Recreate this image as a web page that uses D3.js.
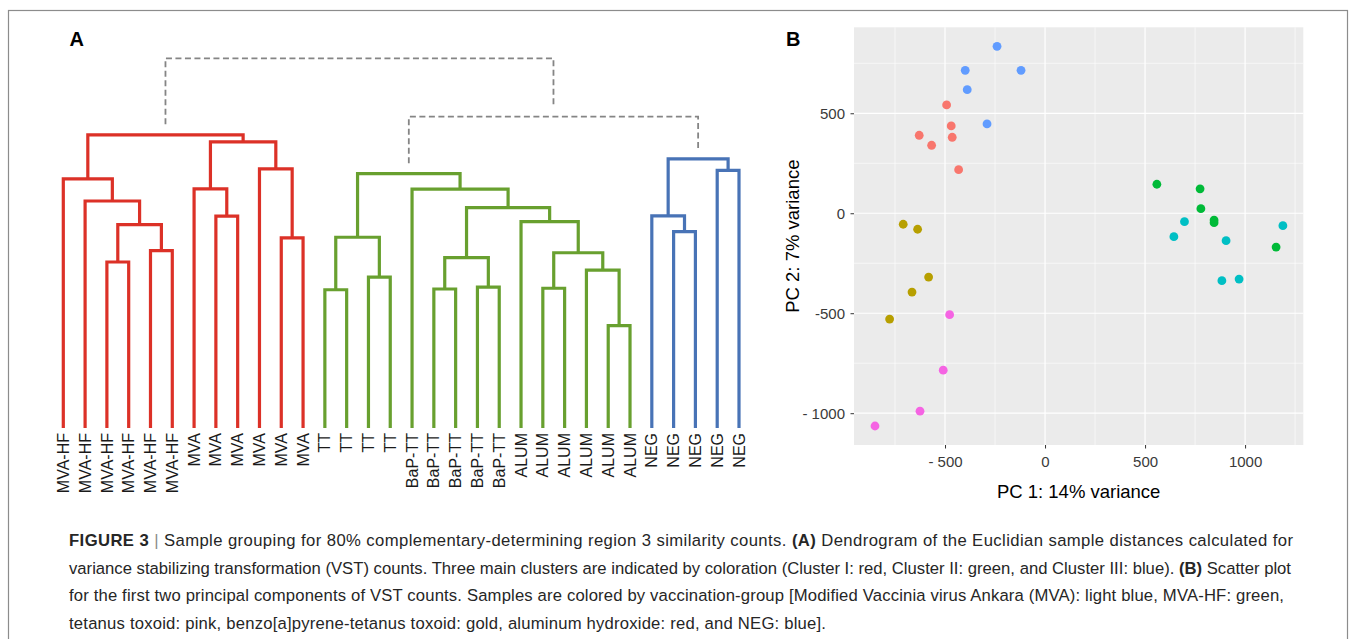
<!DOCTYPE html>
<html>
<head>
<meta charset="utf-8">
<script src="https://cdn.jsdelivr.net/npm/d3@7"></script>
<style>
  body { margin: 0; background: #fff; }
  svg { display: block; font-family: 'Liberation Sans', Arial, sans-serif; }
</style>
</head>
<body>
<svg id="fig" width="1356" height="639"></svg>
<script>
// dendrogram: leaves left to right, merges in R hclust style (negative = leaf, positive = earlier merge)
const sampleLabels = [
  'MVA-HF', 'MVA-HF', 'MVA-HF', 'MVA-HF', 'MVA-HF', 'MVA-HF',
  'MVA', 'MVA', 'MVA', 'MVA', 'MVA', 'MVA',
  'TT', 'TT', 'TT', 'TT',
  'BaP-TT', 'BaP-TT', 'BaP-TT', 'BaP-TT', 'BaP-TT',
  'ALUM', 'ALUM', 'ALUM', 'ALUM', 'ALUM', 'ALUM',
  'NEG', 'NEG', 'NEG', 'NEG', 'NEG'
]
const mergePairs = [
  [-3, -4], [-5, -6], [1, 2], [-2, 3], [-1, 4],
  [-8, -9], [-7, 6], [-11, -12], [-10, 8], [7, 9], [5, 10],
  [-13, -14], [-15, -16], [12, 13],
  [-18, -19], [-20, -21], [15, 16],
  [-23, -24], [-26, -27], [-25, 19], [18, 20], [-22, 21],
  [17, 22], [-17, 23], [14, 24],
  [-29, -30], [-28, 26], [-31, -32], [27, 28],
  [25, 29], [11, 30]
]
const mergeHeights = [
  44.9, 48.0, 55.0, 61.4, 67.4,
  57.3, 64.7, 51.4, 70.1, 77.4, 79.3,
  37.4, 40.8, 51.6,
  37.6, 38.1, 46.1,
  37.8, 27.7, 42.7, 47.4, 55.8,
  59.6, 64.6, 68.8,
  53.1, 57.4, 69.7, 72.8,
  84.2, 100
]
const clusterColors = ['#dc3127', '#68a02f', '#4873b6']

// PCA scatter
const groupNames = ['ALUM', 'BaP-TT', 'MVA-HF', 'MVA', 'NEG', 'TT']
const groupColors = ['#F8766D', '#B79F00', '#00BA38', '#00BFC4', '#619CFF', '#F564E3']
const sampleGroups = [
  'ALUM', 'ALUM', 'ALUM', 'ALUM', 'ALUM', 'ALUM',
  'BaP-TT', 'BaP-TT', 'BaP-TT', 'BaP-TT', 'BaP-TT',
  'MVA-HF', 'MVA-HF', 'MVA-HF', 'MVA-HF', 'MVA-HF', 'MVA-HF',
  'MVA', 'MVA', 'MVA', 'MVA', 'MVA', 'MVA',
  'NEG', 'NEG', 'NEG', 'NEG', 'NEG',
  'TT', 'TT', 'TT', 'TT'
]
const pc1 = [
  -492, -469, -629, -464, -567, -432,
  -709, -637, -582, -665, -777,
  559, 775, 779, 845, 845, 1155,
  697, 644, 905, 1189, 884, 970,
  -240, -399, -120, -389, -290,
  -477, -509, -625, -850
]
const pc2 = [
  542, 437, 390, 380, 340, 218,
  -55, -80, -319, -394, -529,
  145, 122, 23, -34, -47, -169,
  -42, -117, -137, -62, -337, -329,
  835, 715, 715, 618, 447,
  -507, -785, -990, -1064
]
const xMajor = [-500, 0, 500, 1000]
const xMinor = [-750, -250, 250, 750, 1250]
const xTickLabels = ['- 500', '0', '500', '1000']
const yMajor = [-1000, -500, 0, 500]
const yMinor = [-750, -250, 250, 750]
const yTickLabels = ['- 1000', '-500', '0', '500']

const captionLines = [
  [['FIGURE 3', 'b'], [' | ', 'bar'], ['Sample grouping for 80% complementary-determining region 3 similarity counts. ', ''], ['(A)', 'b'], [' Dendrogram of the Euclidian sample distances calculated for', '']],
  [['variance stabilizing transformation (VST) counts. Three main clusters are indicated by coloration (Cluster I: red, Cluster II: green, and Cluster III: blue). ', ''], ['(B)', 'b'], [' Scatter plot', '']],
  [['for the first two principal components of VST counts. Samples are colored by vaccination-group [Modified Vaccinia virus Ankara (MVA): light blue, MVA-HF: green,', '']],
  [['tetanus toxoid: pink, benzo[a]pyrene-tetanus toxoid: gold, aluminum hydroxide: red, and NEG: blue].', '']]
]
const captionWidths = [1224, 1222, 1215, 757]

const svg = d3.select('#fig')

svg.append('rect')
  .attr('x', 8.5).attr('y', 10.5)
  .attr('width', 1339).attr('height', 660)
  .attr('fill', 'none')
  .attr('stroke', '#8c8c8c')
  .attr('stroke-width', 1.2)

// ---------- A: dendrogram ----------
const mergeNodes = mergeHeights.map((h, i) => ({ id: 'm' + (i + 1), height: h }))
const refNode = (ref) => ref < 0 ? { id: 'leaf' + (-ref - 1), leaf: -ref - 1, height: 0 } : mergeNodes[ref - 1]
mergePairs.forEach((pair, i) => { mergeNodes[i].children = pair.map(refNode) })

const root = d3.hierarchy(mergeNodes[mergeNodes.length - 1])
const leaves = root.leaves()

const xLeaf = d3.scalePoint()
  .domain(leaves.map(d => d.data.leaf))
  .range([63.3, 739])
const yHeight = d3.scaleLinear()
  .domain([0, 100])
  .range([428, 58.3])

root.eachAfter(node => {
  node.x = node.children ? d3.mean(node.children, c => c.x) : xLeaf(node.data.leaf)
  node.y = yHeight(node.data.height)
})

const cutHeight = 82
const clusterRoots = root.descendants()
  .filter(d => d.data.height < cutHeight && d.parent && d.parent.data.height >= cutHeight)
  .sort((a, b) => a.x - b.x)
clusterRoots.forEach((c, k) => c.each(d => { d.color = clusterColors[k] }))

const dendro = svg.append('g')

const elbow = (node) => {
  const [a, b] = node.children
  const gap = node.data.height >= cutHeight ? 10.5 : 0
  const p = d3.path()
  p.moveTo(a.x, a.y - gap)
  p.lineTo(a.x, node.y)
  p.lineTo(b.x, node.y)
  p.lineTo(b.x, b.y - gap)
  return p.toString()
}

dendro.selectAll('path.link')
  .data(root.descendants().filter(d => d.children))
  .join('path')
  .attr('class', 'link')
  .attr('d', elbow)
  .attr('fill', 'none')
  .attr('stroke', d => d.data.height >= cutHeight ? '#858585' : d.color)
  .attr('stroke-width', d => d.data.height >= cutHeight ? 1.8 : 3.2)
  .attr('stroke-dasharray', d => d.data.height >= cutHeight ? '6,3.5' : null)
  .attr('stroke-linejoin', 'miter')

dendro.selectAll('text.leaf')
  .data(leaves)
  .join('text')
  .attr('class', 'leaf')
  .attr('transform', d => `translate(${d.x},433) rotate(-90)`)
  .attr('text-anchor', 'end')
  .attr('dy', '0.35em')
  .attr('font-size', 16)
  .attr('fill', '#1a1a1a')
  .text(d => sampleLabels[d.data.leaf])

svg.append('text')
  .attr('x', 69.5).attr('y', 46)
  .attr('font-size', 20).attr('font-weight', 'bold')
  .text('A')

// ---------- B: PCA scatter ----------
const xPC = d3.scaleLinear().domain([-955, 1291]).range([854, 1303.3])
const yPC = d3.scaleLinear().domain([-1159, 930]).range([445, 27.3])
const colorOf = d3.scaleOrdinal().domain(groupNames).range(groupColors)

const panel = svg.append('g')

panel.append('rect')
  .attr('x', xPC.range()[0]).attr('y', yPC.range()[1])
  .attr('width', xPC.range()[1] - xPC.range()[0])
  .attr('height', yPC.range()[0] - yPC.range()[1])
  .attr('fill', '#ebebeb')

const gridLines = (values, scale, vertical, width) => {
  panel.append('g')
    .selectAll('line')
    .data(values)
    .join('line')
    .attr('x1', d => vertical ? scale(d) : xPC.range()[0])
    .attr('x2', d => vertical ? scale(d) : xPC.range()[1])
    .attr('y1', d => vertical ? yPC.range()[0] : scale(d))
    .attr('y2', d => vertical ? yPC.range()[1] : scale(d))
    .attr('stroke', '#ffffff')
    .attr('stroke-width', width)
}
gridLines(xMinor, xPC, true, 0.6)
gridLines(yMinor, yPC, false, 0.6)
gridLines(xMajor, xPC, true, 1.2)
gridLines(yMajor, yPC, false, 1.2)

const xAxis = svg.append('g')
  .attr('transform', `translate(0,${yPC.range()[0]})`)
  .call(d3.axisBottom(xPC)
    .tickValues(xMajor)
    .tickFormat((d, i) => xTickLabels[i])
    .tickSize(3.5)
    .tickPadding(7.5))
const yAxis = svg.append('g')
  .attr('transform', `translate(${xPC.range()[0]},0)`)
  .call(d3.axisLeft(yPC)
    .tickValues(yMajor)
    .tickFormat((d, i) => yTickLabels[i])
    .tickSize(3.5)
    .tickPadding(5.5))

;[xAxis, yAxis].forEach(ax => {
  ax.select('.domain').remove()
  ax.selectAll('line').attr('stroke', '#333')
  ax.selectAll('text')
    .attr('font-size', 15)
    .attr('font-family', "'Liberation Sans', Arial, sans-serif")
    .attr('fill', '#3a3a3a')
})

panel.append('g')
  .selectAll('circle')
  .data(pc1)
  .join('circle')
  .attr('cx', d => xPC(d))
  .attr('cy', (d, i) => yPC(pc2[i]))
  .attr('r', 4.4)
  .attr('fill', (d, i) => colorOf(sampleGroups[i]))

svg.append('text')
  .attr('x', d3.mean(xPC.range())).attr('y', 498)
  .attr('text-anchor', 'middle')
  .attr('font-size', 18.5)
  .text('PC 1: 14% variance')

svg.append('text')
  .attr('transform', `translate(799,${d3.mean(yPC.range())}) rotate(-90)`)
  .attr('text-anchor', 'middle')
  .attr('font-size', 18.5)
  .text('PC 2: 7% variance')

svg.append('text')
  .attr('x', 786).attr('y', 46)
  .attr('font-size', 20).attr('font-weight', 'bold')
  .text('B')

// ---------- caption ----------
const caption = svg.append('g')
const captionRows = caption.selectAll('text')
  .data(captionLines)
  .join('text')
  .attr('x', 69)
  .attr('y', (d, i) => 546 + i * 27.5)
  .attr('font-size', 16)
  .attr('fill', '#262626')

captionRows.selectAll('tspan')
  .data(d => d)
  .join('tspan')
  .attr('font-weight', d => d[1] === 'b' ? 'bold' : null)
  .attr('fill', d => d[1] === 'bar' ? '#8a8a8a' : null)
  .text(d => d[0])

// one font size that lets the widest line fit, then spread each line to its width
const fitScale = d3.min(captionRows.nodes(), (node, i) => captionWidths[i] / node.getComputedTextLength())
captionRows
  .attr('font-size', 16 * fitScale)
  .attr('textLength', (d, i) => captionWidths[i])
  .attr('lengthAdjust', 'spacing')
</script>
</body>
</html>
